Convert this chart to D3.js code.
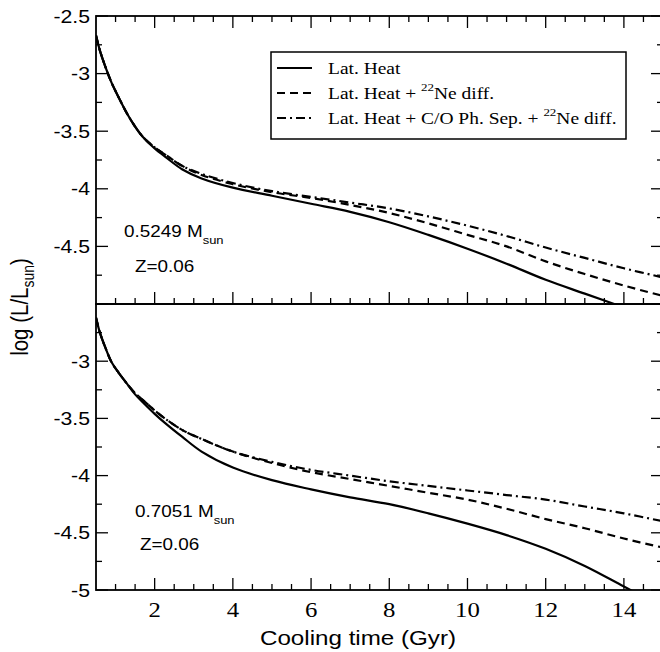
<!DOCTYPE html>
<html><head><meta charset="utf-8">
<script src="https://cdn.jsdelivr.net/npm/d3@7/dist/d3.min.js"></script>
<style>html,body{margin:0;padding:0;background:#fff;}</style>
</head><body>
<svg id="chart" width="660" height="652"></svg>
<script>
// ---- data ----
const coolingTime = [0.5,0.6,0.75,0.9,1.1,1.3,1.5,1.7,2,2.3,2.7,3.2,4,5,6,7,8,9,10,11,12,13,14,15];
const topLatHeat   = [-2.67,-2.80,-2.95,-3.08,-3.22,-3.35,-3.46,-3.55,-3.65,-3.73,-3.83,-3.91,-3.99,-4.06,-4.13,-4.20,-4.29,-4.40,-4.52,-4.65,-4.79,-4.91,-5.03,-5.15];
const topNeDiff    = [-2.67,-2.80,-2.95,-3.08,-3.22,-3.35,-3.46,-3.55,-3.64,-3.71,-3.80,-3.88,-3.96,-4.03,-4.08,-4.14,-4.21,-4.30,-4.40,-4.50,-4.63,-4.74,-4.84,-4.93];
const topPhSepNe   = [-2.67,-2.80,-2.95,-3.08,-3.22,-3.35,-3.46,-3.55,-3.64,-3.71,-3.80,-3.87,-3.95,-4.02,-4.07,-4.12,-4.17,-4.24,-4.32,-4.41,-4.51,-4.60,-4.69,-4.77];
const botLatHeat   = [-2.62,-2.75,-2.89,-3.01,-3.11,-3.20,-3.29,-3.36,-3.46,-3.55,-3.66,-3.79,-3.93,-4.04,-4.12,-4.19,-4.25,-4.33,-4.42,-4.52,-4.64,-4.79,-4.97,-5.15];
const botNeDiff    = [-2.62,-2.75,-2.89,-3.01,-3.11,-3.20,-3.28,-3.34,-3.43,-3.51,-3.60,-3.68,-3.79,-3.89,-3.97,-4.03,-4.09,-4.15,-4.21,-4.29,-4.38,-4.46,-4.55,-4.63];
const botPhSepNe   = [-2.62,-2.75,-2.89,-3.01,-3.11,-3.20,-3.28,-3.34,-3.43,-3.51,-3.60,-3.68,-3.79,-3.88,-3.95,-4.00,-4.05,-4.09,-4.13,-4.17,-4.21,-4.27,-4.33,-4.40];
const xTickValues = [2,4,6,8,10,12,14];
const topYTickLabels = ["-2.5","-3","-3.5","-4","-4.5"];
const botYTickLabels = ["-3","-3.5","-4","-4.5","-5"];
const legendLabels = [
  {pre:"Lat. Heat", sup:"", post:""},
  {pre:"Lat. Heat + ", sup:"22", post:"Ne diff."},
  {pre:"Lat. Heat + C/O Ph. Sep. + ", sup:"22", post:"Ne diff."}
];
const panelMass = ["0.5249 M", "0.7051 M"];
const panelZ = ["Z=0.06", "Z=0.06"];

// ---- layout ----
const SX = 1.18; // horizontal stretch of the original figure
const left = 96, right = 663;
const svg = d3.select("#chart");
const x = d3.scaleLinear().domain([0.5, 15]).range([left, right]);
const panels = [
  {y: d3.scaleLinear().domain([-2.5, -5]).range([16, 304]), series:[topLatHeat, topNeDiff, topPhSepNe], labels: topYTickLabels, topTicks:true, xLabels:false},
  {y: d3.scaleLinear().domain([-2.5, -5]).range([304, 590]), series:[botLatHeat, botNeDiff, botPhSepNe], labels: botYTickLabels, topTicks:false, xLabels:true}
];
const dashes = [null, "8,5", "9,4,2,4"];
const sans = "'Liberation Sans', Arial, Helvetica, sans-serif";
const serif = "'Liberation Serif', 'Times New Roman', serif";

function stext(parent, px, py, size, family, anchor, rot) {
  const g = parent.append("g").attr("transform", `translate(${px},${py}) scale(${SX},1)` + (rot ? ` rotate(${rot})` : ""));
  return g.append("text").attr("font-size", size).attr("font-family", family).attr("text-anchor", anchor || "start").attr("fill", "#000");
}

const defs = svg.append("defs");
panels.forEach((p, i) => {
  const [y0, y1] = [p.y.range()[0], p.y.range()[1]];
  defs.append("clipPath").attr("id", "clip" + i).append("rect")
    .attr("x", left).attr("y", y0).attr("width", right - left).attr("height", y1 - y0);
  const g = svg.append("g");
  // curves
  const line = d3.line().x((d, k) => x(coolingTime[k])).y(d => p.y(d)).curve(d3.curveCatmullRom.alpha(0.5));
  p.series.forEach((s, k) => {
    g.append("path").attr("d", line(s)).attr("fill", "none").attr("stroke", "#000")
      .attr("stroke-width", 2.2).attr("stroke-dasharray", dashes[k]).attr("clip-path", `url(#clip${i})`);
  });
  // ticks
  const tk = g.append("g").attr("stroke", "#000").attr("stroke-width", 1.3);
  const yMajor = d3.range(-2.5, -5.01, -0.5), yMinor = d3.range(-2.75, -5, -0.5);
  const xMajor = xTickValues, xMinor = d3.range(1, 15.01, 0.5).filter(v => v % 2 !== 0);
  yMajor.forEach(v => { tk.append("line").attr("x1", left).attr("x2", left + 12).attr("y1", p.y(v)).attr("y2", p.y(v));
                        tk.append("line").attr("x1", right).attr("x2", right - 12).attr("y1", p.y(v)).attr("y2", p.y(v)); });
  yMinor.forEach(v => { tk.append("line").attr("x1", left).attr("x2", left + 6).attr("y1", p.y(v)).attr("y2", p.y(v));
                        tk.append("line").attr("x1", right).attr("x2", right - 6).attr("y1", p.y(v)).attr("y2", p.y(v)); });
  xMajor.forEach(v => { tk.append("line").attr("x1", x(v)).attr("x2", x(v)).attr("y1", y1).attr("y2", y1 - 12);
                        if (p.topTicks) tk.append("line").attr("x1", x(v)).attr("x2", x(v)).attr("y1", y0).attr("y2", y0 + 12); });
  xMinor.forEach(v => { tk.append("line").attr("x1", x(v)).attr("x2", x(v)).attr("y1", y1).attr("y2", y1 - 6);
                        if (p.topTicks) tk.append("line").attr("x1", x(v)).attr("x2", x(v)).attr("y1", y0).attr("y2", y0 + 6); });
  // frame
  g.append("rect").attr("x", left).attr("y", y0).attr("width", right - left).attr("height", y1 - y0)
    .attr("fill", "none").attr("stroke", "#000").attr("stroke-width", 1.8);
  // y tick labels
  p.labels.forEach(lab => {
    stext(g, 90, p.y(+lab) + 6.5, 18, sans, "end").text(lab);
  });
  // x tick labels
  if (p.xLabels) xTickValues.forEach(v => stext(g, x(v), 617, 21, serif, "middle").text(v));
  // annotations
  const ax = i === 0 ? 124 : 135, ay = i === 0 ? 237 : 517;
  const t1 = stext(g, ax, ay, 16, sans, "start");
  t1.append("tspan").text(panelMass[i]);
  t1.append("tspan").attr("font-size", 11).attr("dy", 7).text("sun");
  stext(g, ax + (i === 0 ? 11 : 5), ay + (i === 0 ? 35 : 33), 16, sans, "start").text(panelZ[i]);
});

// legend
const lg = svg.append("g");
lg.append("rect").attr("x", 271).attr("y", 52).attr("width", 355).attr("height", 87)
  .attr("fill", "#fff").attr("stroke", "#000").attr("stroke-width", 1.5);
legendLabels.forEach((L, k) => {
  const cy = 68 + k * 25;
  lg.append("line").attr("x1", 277).attr("x2", 312).attr("y1", cy).attr("y2", cy)
    .attr("stroke", "#000").attr("stroke-width", 1.8).attr("stroke-dasharray", dashes[k]);
  const t = stext(lg, 328, cy + 6, 16.5, serif, "start");
  t.append("tspan").text(L.pre);
  if (L.sup) {
    t.append("tspan").attr("font-size", 11).attr("dy", -8).text(L.sup);
    t.append("tspan").attr("dy", 8).text(L.post);
  }
});

// axis titles
stext(svg, 358, 645, 20.5, sans, "middle").text("Cooling time (Gyr)");
const yl = stext(svg, 28, 307, 20.5, sans, "middle", -90);
yl.append("tspan").text("log (L/L");
yl.append("tspan").attr("font-size", 14).attr("dy", 5).text("sun");
yl.append("tspan").attr("dy", -5).text(")");
</script>
</body></html>
